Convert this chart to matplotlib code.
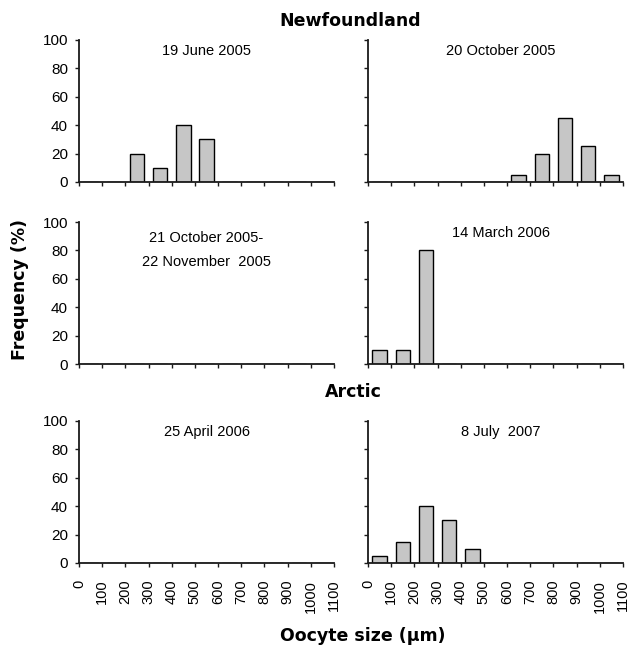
import matplotlib

matplotlib.use("Agg")
import matplotlib.pyplot as plt
import numpy as np

plt.rcParams["font.family"] = ["Liberation Sans", "DejaVu Sans"]

# oocyte size classes (upper bounds of the 100 um bins, plus origin)
size_ticks = ["0", "100", "200", "300", "400", "500", "600",
              "700", "800", "900", "1000", "1100"]

# frequency (%) of oocytes per 100 um size class
june_2005 = [0, 0, 20, 10, 40, 30, 0, 0, 0, 0, 0]
oct_2005 = [0, 0, 0, 0, 0, 0, 5, 20, 45, 25, 5]
oct_nov_2005 = [0, 0, 0, 0, 0, 0, 0, 0, 0, 0, 0]
mar_2006 = [10, 10, 80, 0, 0, 0, 0, 0, 0, 0, 0]
apr_2006 = [0, 0, 0, 0, 0, 0, 0, 0, 0, 0, 0]
jul_2007 = [5, 15, 40, 30, 10, 0, 0, 0, 0, 0, 0]

panel_titles = ["19 June 2005", "20 October 2005",
                "21 October 2005-\n22 November  2005", "14 March 2006",
                "25 April 2006", "8 July  2007"]
panel_data = [june_2005, oct_2005, oct_nov_2005, mar_2006, apr_2006, jul_2007]

W, H = 630, 649
fig = plt.figure(figsize=(W / 100, H / 100), dpi=100)

col_x = [79, 368]
row_bottom = [182, 364, 563]   # pixel row of the zero line
ax_w, ax_h = 255, 142

BAR_COLOR = "#c6c6c6"
AXIS_COLOR = "#1a1a1a"

for i, (title, vals) in enumerate(zip(panel_titles, panel_data)):
    row, col = divmod(i, 2)
    x0 = col_x[col] / W
    y0 = 1 - row_bottom[row] / H
    ax = fig.add_axes([x0, y0, ax_w / W, ax_h / H])

    pos = np.arange(len(vals)) + 0.5
    ax.bar(pos, vals, width=0.62, color=BAR_COLOR, edgecolor="black",
           linewidth=1.0, zorder=3)

    ax.set_xlim(0, 11)
    ax.set_ylim(0, 100)
    for side in ("top", "right"):
        ax.spines[side].set_visible(False)
    for side in ("left", "bottom"):
        ax.spines[side].set_linewidth(1.3)
        ax.spines[side].set_color(AXIS_COLOR)
        ax.spines[side].set_zorder(4)

    ax.set_yticks([0, 20, 40, 60, 80, 100])
    ax.set_xticks(np.arange(12))
    ax.tick_params(axis="both", direction="out", length=3, width=1.0,
                   color=AXIS_COLOR, labelsize=11)
    ax.tick_params(axis="y", pad=5)
    if col == 1:
        ax.set_yticklabels([])
    if row == 2:
        ax.set_xticklabels(size_ticks, rotation=90, va="top", ha="center")
        ax.tick_params(axis="x", pad=9, labelsize=10.5)
    else:
        ax.set_xticklabels([])

    if "\n" in title:
        first, second = title.split("\n")
        ax.text(0.5, 0.89, first, transform=ax.transAxes, ha="center",
                va="center", fontsize=10.5)
        ax.text(0.5, 0.72, second, transform=ax.transAxes, ha="center",
                va="center", fontsize=10.5)
    else:
        ax.text(0.5 if col == 0 else 0.52, 0.92, title, transform=ax.transAxes,
                ha="center", va="center", fontsize=10.5)

bold = dict(family="DejaVu Sans", fontweight="bold", fontsize=12.5,
            ha="center", va="center")
fig.text(350 / W, 1 - 21 / H, "Newfoundland", **bold)
fig.text(353 / W, 1 - 392 / H, "Arctic", **bold)
fig.text(363 / W, 1 - 636 / H, "Oocyte size (µm)", **bold)
fig.text(20 / W, 1 - 289 / H, "Frequency (%)", rotation=90, **bold)

fig.savefig("out.png", dpi=100)
